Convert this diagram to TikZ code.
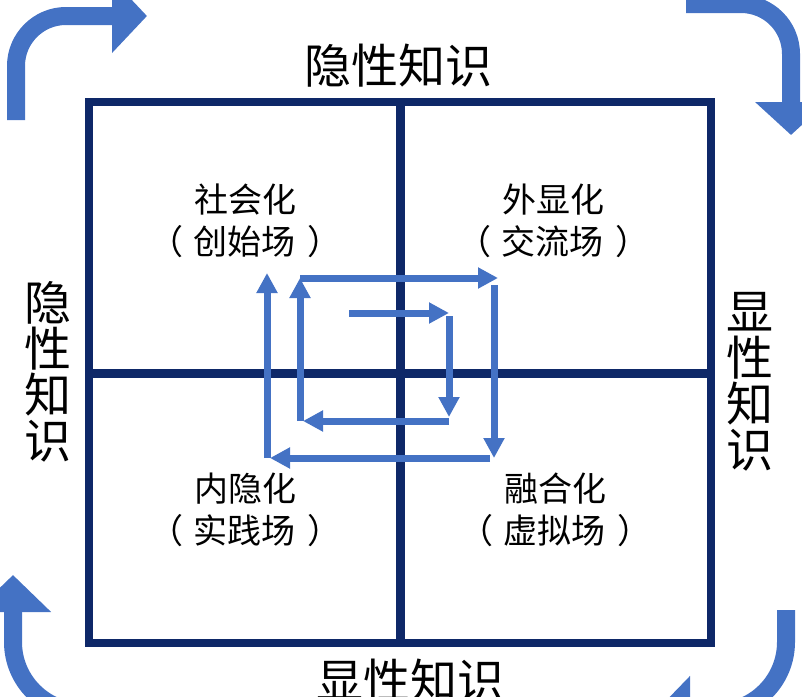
\documentclass[tikz,border=0pt]{standalone}
\usepackage{fontspec}
\usepackage{tikz}
\usetikzlibrary{arrows.meta}
\newfontfamily\cjk{Noto Sans CJK SC}
\definecolor{framec}{RGB}{14,40,104}
\definecolor{arrowc}{RGB}{68,114,196}
\newcommand{\paren}[1]{（\hspace{11pt}#1\hspace{11pt}）}

\begin{document}
\begin{tikzpicture}[x=1pt,y=1pt,yscale=-1,xscale=1,
  bigarrow/.style={draw=arrowc,line width=18pt,rounded corners=#1},
  spiral/.style={draw=arrowc,line width=7pt,-{Triangle[length=20pt,width=20pt]}},
  bigtext/.style={inner sep=0pt,align=center,font=\cjk\fontsize{47}{46}\selectfont},
  quadtext/.style={inner sep=0pt,align=center,font=\cjk\fontsize{34}{42}\selectfont}]
\useasboundingbox (0,0) rectangle (802,696);
\clip (0,0) rectangle (802,696);

%Corner arrows
\draw [bigarrow=50,-{Triangle[length=35pt,width=72pt]}] (16,120) |- (147,16) ;
\draw [bigarrow=50,-{Triangle[length=33pt,width=70pt]}] (686,4) -| (791,135) ;
\draw [bigarrow=70,-{Triangle[length=35pt,width=70pt]}] (786,610) |- (655,712) ;
\draw [bigarrow=70,-{Triangle[length=37pt,width=74pt]}] (160,712) -| (13,575) ;

%Frame and dividers
\draw [framec,line width=8pt] (89,102) rectangle (711,643) ;
\draw [framec,line width=9pt] (400,102) -- (400,643) ;
\draw [framec,line width=9pt] (89,373) -- (711,373) ;

%Spiral corners
\coordinate (p0) at (349,313);
\coordinate (p1) at (449,313);
\coordinate (p2) at (449,421);
\coordinate (p3) at (300,421);
\coordinate (p4) at (300,278);
\coordinate (p5) at (494,278);
\coordinate (p6) at (494,458);
\coordinate (p7) at (267,458);
\coordinate (p8) at (267,273);

%Spiral arrows
\draw [spiral] (p0) -- (p1) ;
\draw [spiral,shorten <=3pt,shorten >=4pt] (p1) -- (p2) ;
\draw [spiral,shorten >=3pt] (p2) -- (p3) ;
\draw [spiral] (p3) -- (p4) ;
\draw [spiral,shorten >=-4pt] (p4) -- (p5) ;
\draw [spiral,shorten <=7pt] (p5) -- (p6) ;
\draw [spiral,shorten <=4pt,shorten >=3pt] (p6) -- (p7) ;
\draw [spiral] (p7) -- (p8) ;

% Outer labels
\node (top) at (398,66) [bigtext] {隐性知识};
\node (bottom) at (410,681) [bigtext] {显性知识};
\node (left) at (48,372) [bigtext] {隐\\性\\知\\识};
\node (right) at (750,382) [bigtext] {显\\性\\知\\识};

% Quadrant labels
\node (social) at (245,221) [quadtext] {社会化\\\paren{创始场}};
\node (extern) at (553,221) [quadtext] {外显化\\\paren{交流场}};
\node (intern) at (245,510) [quadtext] {内隐化\\\paren{实践场}};
\node (combin) at (555,510) [quadtext] {融合化\\\paren{虚拟场}};

\end{tikzpicture}
\end{document}
